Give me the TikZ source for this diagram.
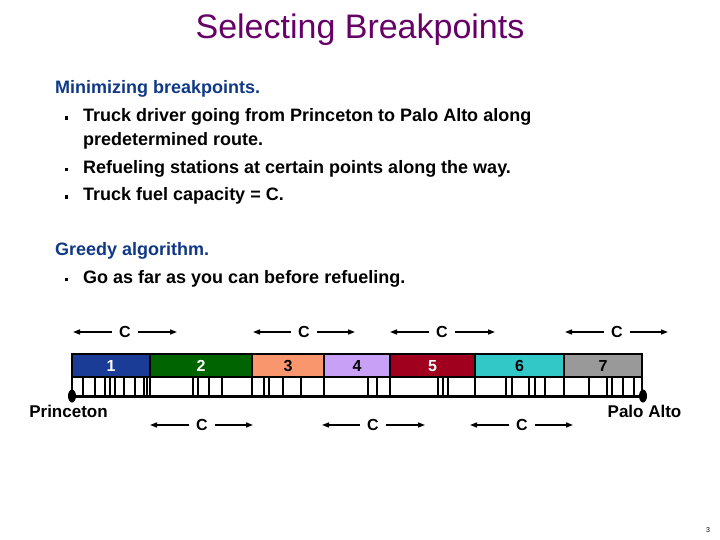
\documentclass[tikz,border=0pt]{standalone}
\usepackage{fontspec}
\setmainfont{Liberation Sans}
\usetikzlibrary{arrows.meta,shapes.geometric}
\definecolor{titlec}{RGB}{102,0,102}
\definecolor{headc}{RGB}{16,56,136}
\definecolor{s1c}{RGB}{26,60,150}
\definecolor{s2c}{RGB}{0,100,0}
\definecolor{s3c}{RGB}{250,150,110}
\definecolor{s4c}{RGB}{200,160,245}
\definecolor{s5c}{RGB}{160,0,30}
\definecolor{s6c}{RGB}{50,200,200}
\definecolor{s7c}{RGB}{153,153,153}
\begin{document}
\begin{tikzpicture}[x=1pt,y=-1pt,
  txt/.style={anchor=base west, inner sep=0, font=\fontsize{18}{21}\selectfont\bfseries},
  head/.style={txt, text=headc},
  bul/.style={fill=black, inner sep=0, minimum size=3.5pt},
  seg/.style={draw=black, line width=1.5pt, anchor=north west, outer sep=0, minimum height=23pt, inner sep=0, text height=11.5pt, text depth=0pt, font=\fontsize{16}{18}\selectfont\bfseries},
  clab/.style={inner sep=0, inner xsep=7pt, text height=11.5pt, text depth=0pt, font=\fontsize{16}{19}\selectfont\bfseries},
  carrow/.style={-{Triangle[length=7pt,width=5pt]}, line width=1.3pt},
  tickln/.style={line width=2.5pt},
  place/.style={inner sep=0, anchor=base, font=\fontsize{17}{20}\selectfont\bfseries},
  dotmark/.style={ellipse, fill=black, inner sep=0, minimum width=8pt, minimum height=13pt},
]
\useasboundingbox (0,0) rectangle (720,540);

% title
\node[anchor=base, inner sep=0, text=titlec, font=\fontsize{34}{40}\selectfont] (title) at (360,38.5) {Selecting Breakpoints};

% text
\node[head] (h1) at (55,94) {Minimizing breakpoints.};
\node[bul] (b1) at (66.5,118) {};
\node[txt] (l1) at (83,121.7) {Truck driver going from Princeton to Palo Alto along};
\node[txt] (l1b) at (83,146) {predetermined route.};
\node[bul] (b2) at (66.5,169.5) {};
\node[txt] (l2) at (83,173.3) {Refueling stations at certain points along the way.};
\node[bul] (b3) at (66.5,197.2) {};
\node[txt] (l3) at (83,201) {Truck fuel capacity = C.};
\node[head] (h2) at (55,255) {Greedy algorithm.};
\node[bul] (b4) at (66.5,279.5) {};
\node[txt] (l4) at (83,283.3) {Go as far as you can before refueling.};

% ticks
\foreach \x in {83,95,105,110,115,124,135,144,147,
                193,198,209,222,
                264,269,283,301,
                368,377,
                438,443,448,
                506,512,529,535,545,
                589,607,612,623,634}
  \draw[tickln] (\x,377) -- (\x,396);
\foreach \x in {72,150,252,324,390,475,564,642}
  \draw[line width=2pt] (\x,377) -- (\x,396);
\draw[line width=3.5pt] (72,396.5) -- (642,396.5);

% segments
\node[seg, fill=s1c, text=white, minimum width=78pt] (s1) at (72,354) {1};
\node[seg, fill=s2c, text=white, minimum width=102pt] (s2) at (150,354) {2};
\node[seg, fill=s3c, minimum width=72pt] (s3) at (252,354) {3};
\node[seg, fill=s4c, minimum width=66pt] (s4) at (324,354) {4};
\node[seg, fill=s5c, text=white, minimum width=85pt] (s5) at (390,354) {5};
\node[seg, fill=s6c, minimum width=89pt] (s6) at (475,354) {6};
\node[seg, fill=s7c, minimum width=78pt] (s7) at (564,354) {7};

% end points
\node[dotmark] (dp) at (72,396) {};
\node[dotmark] (dq) at (643,396) {};
\node[place] (princeton) at (68.5,417) {Princeton};
\node[place] (paloalto) at (644.5,417.5) {Palo Alto};

% C arrows
\foreach \n/\cx/\cy/\lx/\rx in {t1/125/332/73/177, t2/304/332/253/355, t3/442/332/390/495, t4/617/332/565/668,
                               u1/202/425/150/253, u2/373/425/322/425, u3/522/425/470/573} {
  \node[clab] (\n) at (\cx,\cy) {C};
  \coordinate (\n l) at (\lx,\cy);
  \coordinate (\n r) at (\rx,\cy);
  \draw[carrow] (\n.west) -- (\n l);
  \draw[carrow] (\n.east) -- (\n r);
}

% page number
\node[inner sep=0, font=\fontsize{7}{8}\selectfont] (pg) at (708,530) {3};
\end{tikzpicture}
\end{document}
